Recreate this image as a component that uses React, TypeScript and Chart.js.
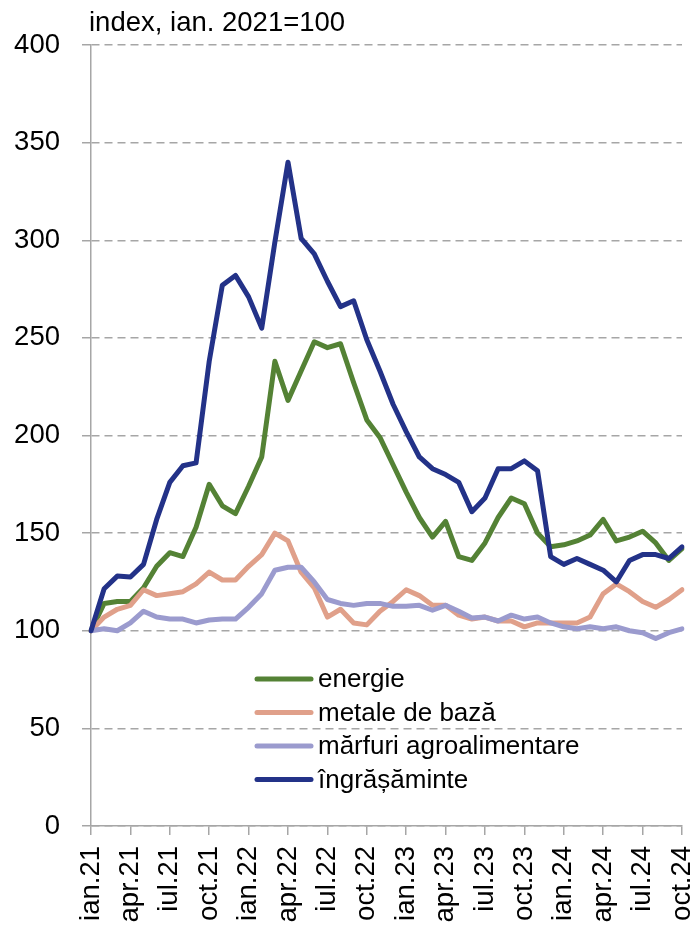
import React, { useEffect, useRef } from "react";
import { Chart, registerables } from "chart.js";

Chart.register(...registerables);

const categories = [
  "ian.21", "feb.21", "mar.21", "apr.21", "mai.21", "iun.21", "iul.21", "aug.21", "sep.21", "oct.21", "nov.21", "dec.21",
  "ian.22", "feb.22", "mar.22", "apr.22", "mai.22", "iun.22", "iul.22", "aug.22", "sep.22", "oct.22", "nov.22", "dec.22",
  "ian.23", "feb.23", "mar.23", "apr.23", "mai.23", "iun.23", "iul.23", "aug.23", "sep.23", "oct.23", "nov.23", "dec.23",
  "ian.24", "feb.24", "mar.24", "apr.24", "mai.24", "iun.24", "iul.24", "aug.24", "sep.24", "oct.24",
];

const energie = [
  100, 114, 115, 115, 122, 133, 140, 138, 153, 175, 164, 160,
  174, 189, 238, 218, 233, 248, 245, 247, 227, 208, 199, 185,
  171, 158, 148, 156, 138, 136, 145, 158, 168, 165, 150, 143,
  144, 146, 149, 157, 146, 148, 151, 145, 136, 142,
];

const metale = [
  100, 107, 111, 113, 121, 118, 119, 120, 124, 130, 126, 126,
  133, 139, 150, 146, 130, 122, 107, 111, 104, 103, 110, 115,
  121, 118, 113, 113, 108, 106, 107, 105, 105, 102, 104, 104,
  104, 104, 107, 119, 124, 120, 115, 112, 116, 121,
];

const agro = [
  100, 101, 100, 104, 110, 107, 106, 106, 104, 105.5, 106, 106,
  112, 119, 131, 132.5, 132.5, 125, 116, 114, 113, 114, 114, 112.5,
  112.5, 113, 110.5, 113, 110, 106.5, 107, 105, 108, 106, 107, 104,
  102, 101, 102, 101, 102, 100, 99, 96, 99, 101,
];

const ingrasaminte = [
  100, 121.5, 128, 127.5, 134, 157, 176, 184.5, 186, 238, 277, 282,
  271, 255, 299, 340, 301, 293, 279, 266, 269, 249, 233, 216,
  202, 189, 183, 180, 176, 161, 168, 183, 183, 187, 182, 138,
  134, 137, 134, 131, 125, 136, 139, 139, 137, 143,
];

const seriesNames = ["energie", "metale de bază", "mărfuri agroalimentare", "îngrășăminte"];
const seriesColors = ["#548235", "#E0A08A", "#9B9BCE", "#233288"];
const yTitle = "index, ian. 2021=100";

const FONT = "'Liberation Sans', Arial, sans-serif";
const GRID = "#A6A6A6";

const overlayPlugin = {
  id: "overlay",
  afterDraw(chart: any) {
    const { ctx, chartArea } = chart;
    ctx.save();
    ctx.fillStyle = "#000";
    ctx.font = `27.5px ${FONT}`;
    ctx.textBaseline = "alphabetic";
    ctx.textAlign = "left";
    ctx.fillText(yTitle, chartArea.left - 2, 31);

    const lx = chartArea.left + 166;
    const ly = chartArea.top + 634;
    const rowH = 33.5;
    ctx.font = `26px ${FONT}`;
    ctx.textBaseline = "middle";
    chart.data.datasets.forEach((ds: any, i: number) => {
      const y = ly + i * rowH;
      ctx.strokeStyle = ds.borderColor;
      ctx.lineWidth = 5;
      ctx.lineCap = "round";
      ctx.beginPath();
      ctx.moveTo(lx, y);
      ctx.lineTo(lx + 54, y);
      ctx.stroke();
      ctx.fillStyle = "#000";
      ctx.fillText(ds.label, lx + 61, y + 1);
    });
    ctx.restore();
  },
};

export default function App() {
  const ref = useRef<HTMLCanvasElement | null>(null);

  useEffect(() => {
    document.body.style.margin = "0";
    const canvas = ref.current;
    if (!canvas) return;
    const data = [energie, metale, agro, ingrasaminte];
    const chart = new Chart(canvas, {
      type: "line",
      data: {
        labels: categories,
        datasets: data.map((d, i) => ({
          label: seriesNames[i],
          data: d,
          borderColor: seriesColors[i],
          backgroundColor: seriesColors[i],
          borderWidth: 5,
          pointRadius: 0,
          tension: 0,
          borderJoinStyle: "round" as const,
          borderCapStyle: "round" as const,
          order: 3 - i,
        })),
      },
      options: {
        animation: false,
        responsive: false,
        maintainAspectRatio: false,
        layout: { padding: { top: 45, right: 13, left: 0, bottom: 0 } },
        plugins: {
          legend: { display: false },
          tooltip: { enabled: false },
          title: { display: false },
        },
        scales: {
          x: {
            type: "category",
            offset: false,
            grid: {
              display: true,
              drawOnChartArea: false,
              drawTicks: true,
              tickLength: 9,
              color: GRID,
              tickColor: GRID,
              lineWidth: 1.5,
            },
            border: { display: true, color: GRID, width: 1.5 },
            ticks: {
              autoSkip: false,
              maxRotation: 90,
              minRotation: 90,
              padding: 11,
              color: "#000",
              font: { family: FONT, size: 27.5 },
              callback: (_v: any, index: number) => (index % 3 === 0 ? categories[index] : null),
            },
            afterFit: (s: any) => {
              s.height = 104;
              s.paddingLeft = 0;
              s.paddingRight = 0;
            },
          },
          y: {
            min: 0,
            max: 400,
            grid: {
              color: GRID,
              lineWidth: 1.5,
              drawTicks: true,
              tickLength: 9,
              tickColor: GRID,
            },
            border: { display: true, color: GRID, width: 1.5, dash: [8, 5] },
            ticks: {
              stepSize: 50,
              padding: 22,
              color: "#000",
              font: { family: FONT, size: 27.5 },
            },
            afterFit: (s: any) => {
              s.width = 91;
              s.paddingTop = 0;
              s.paddingBottom = 0;
            },
          },
        },
      },
      plugins: [overlayPlugin],
    });
    return () => chart.destroy();
  }, []);

  return (
    <div style={{ width: 695, height: 930 }}>
      <canvas ref={ref} width={695} height={930} style={{ width: 695, height: 930, display: "block" }} />
    </div>
  );
}
